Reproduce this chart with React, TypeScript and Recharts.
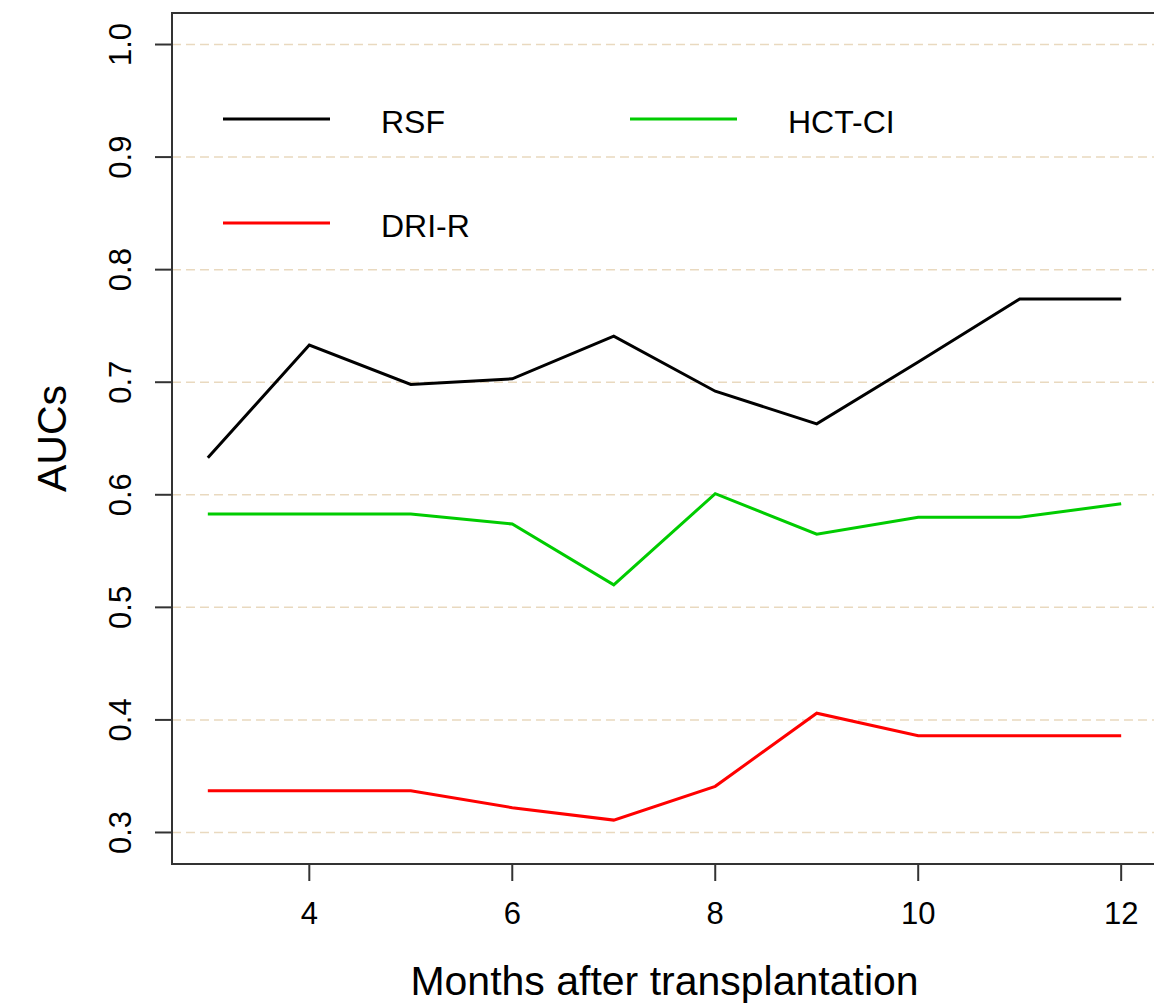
import React from "react";
import {
  LineChart,
  Line,
  XAxis,
  YAxis,
  CartesianGrid,
  Legend,
  ReferenceArea,
} from "recharts";

const months = [3, 4, 5, 6, 7, 8, 9, 10, 11, 12];
const rsf = [0.633, 0.733, 0.698, 0.703, 0.741, 0.692, 0.663, 0.718, 0.774, 0.774];
const hctCi = [0.583, 0.583, 0.583, 0.574, 0.52, 0.601, 0.565, 0.58, 0.58, 0.592];
const driR = [0.337, 0.337, 0.337, 0.322, 0.311, 0.341, 0.406, 0.386, 0.386, 0.386];

const xTicks = [4, 6, 8, 10, 12];
const yTicks = [0.3, 0.4, 0.5, 0.6, 0.7, 0.8, 0.9, 1.0];

const series = [
  { key: "rsf", name: "RSF", color: "#000000" },
  { key: "hctCi", name: "HCT-CI", color: "#00CC00" },
  { key: "driR", name: "DRI-R", color: "#FF0000" },
];

// R-style 4% padding around the data ranges
const xDomain: [number, number] = [2.647, 12.353];
const yDomain: [number, number] = [0.272, 1.028];

const data = months.map((m, i) => ({
  month: m,
  rsf: rsf[i],
  hctCi: hctCi[i],
  driR: driR[i],
}));

const FONT = '"Liberation Sans", Arial, sans-serif';
const AXIS = "#333333";

const YTick = (props: any) => {
  const { x, y, payload } = props;
  return (
    <text
      transform={`translate(${x},${y}) rotate(-90)`}
      textAnchor="middle"
      fontSize={31}
      fill="#000"
    >
      {Number(payload.value).toFixed(1)}
    </text>
  );
};

const YTitle = (props: any) => {
  const vb = props.viewBox;
  const cx = vb.x + 66;
  const cy = vb.y + vb.height / 2;
  return (
    <text
      transform={`translate(${cx},${cy}) rotate(-90)`}
      textAnchor="middle"
      fontSize={41}
      fill="#000"
    >
      AUCs
    </text>
  );
};

const XTitle = (props: any) => {
  const vb = props.viewBox;
  return (
    <text x={vb.x + vb.width / 2} y={vb.y + 131} textAnchor="middle" fontSize={41} fill="#000">
      Months after transplantation
    </text>
  );
};

// legend sits inside the plot, two columns like R's legend(ncol = 2)
const legendCols = [223, 630];
const legendRows = [119, 223];
const legendPlace = [
  [0, 0],
  [1, 0],
  [0, 1],
];

const LegendBox = () => (
  <svg width={1180} height={300} style={{ display: "block" }}>
    {series.map((s, i) => {
      const lx = legendCols[legendPlace[i][0]];
      const ly = legendRows[legendPlace[i][1]];
      return (
        <g key={s.key}>
          <line x1={lx} x2={lx + 107} y1={ly} y2={ly} stroke={s.color} strokeWidth={3} />
          <text x={lx + 158} y={ly + 14} fontSize={32} fill="#000" fontFamily={FONT}>
            {s.name}
          </text>
        </g>
      );
    })}
  </svg>
);

export default function App() {
  return (
    <div
      style={{
        position: "absolute",
        left: 0,
        top: 0,
        width: 1154,
        height: 1006,
        overflow: "hidden",
        background: "#fff",
        fontFamily: FONT,
      }}
    >
      <LineChart
        width={1180}
        height={1006}
        data={data}
        margin={{ top: 13, right: 23, bottom: 0, left: 0 }}
      >
        <CartesianGrid
          vertical={false}
          stroke="#E9D9BF"
          strokeWidth={1.5}
          strokeDasharray="9 5"
        />
        <XAxis
          dataKey="month"
          type="number"
          domain={xDomain}
          ticks={xTicks}
          interval={0}
          allowDataOverflow
          height={142}
          axisLine={false}
          tickLine={{ stroke: AXIS, strokeWidth: 2 }}
          tickSize={17}
          tickMargin={21}
          tick={{ fontSize: 31, fill: "#000" }}
          label={<XTitle />}
        />
        <YAxis
          type="number"
          domain={yDomain}
          ticks={yTicks}
          interval={0}
          allowDataOverflow
          width={172}
          axisLine={false}
          tickLine={{ stroke: AXIS, strokeWidth: 2 }}
          tickSize={17}
          tickMargin={24}
          tick={<YTick />}
          label={<YTitle />}
        />
        <ReferenceArea
          x1={xDomain[0]}
          x2={xDomain[1]}
          y1={yDomain[0]}
          y2={yDomain[1]}
          fill="none"
          stroke={AXIS}
          strokeWidth={2}
        />
        <Legend
          layout="horizontal"
          verticalAlign="middle"
          align="center"
          content={<LegendBox />}
          wrapperStyle={{ left: 0, top: 0, width: 1180, height: 300 }}
        />
        {series.map((s) => (
          <Line
            key={s.key}
            type="linear"
            dataKey={s.key}
            name={s.name}
            stroke={s.color}
            strokeWidth={3}
            dot={false}
            activeDot={false}
            isAnimationActive={false}
          />
        ))}
      </LineChart>
    </div>
  );
}
